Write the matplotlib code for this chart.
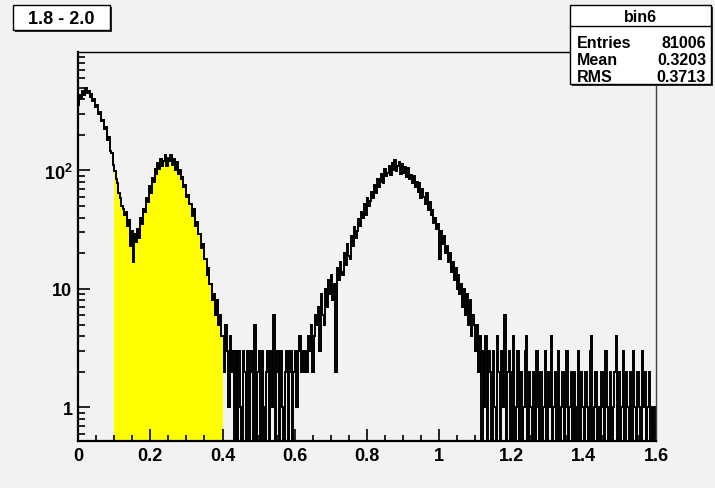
import numpy as np
import matplotlib
matplotlib.use('Agg')
import matplotlib.pyplot as plt
from matplotlib.patches import Rectangle
from matplotlib.ticker import MultipleLocator, FixedLocator, NullFormatter

plt.rcParams['font.family'] = ['Liberation Sans', 'DejaVu Sans']
plt.rcParams['font.weight'] = 'bold'
plt.rcParams['mathtext.fontset'] = 'custom'
plt.rcParams['mathtext.rm'] = 'Liberation Sans:bold'
plt.rcParams['mathtext.bf'] = 'Liberation Sans:bold'

# histogram "bin6", bins of 0.004 starting at 0, counts
BIN_W = 0.004
X_MIN = 0.0
FILL_LO, FILL_HI = 0.1, 0.4

# 0.000 - 0.100
peak_lo = [360, 430, 405, 470, 430, 495, 455, 470, 420, 445,
           385, 400, 340, 355, 300, 310, 260, 268, 225, 232,
           180, 190, 145, 140, 112]
# 0.100 - 0.400
peak_mid = [98, 84, 78, 64, 58, 50, 47, 42, 45, 34,
            38, 23, 31, 17, 29, 25, 32, 27, 40, 35,
            47, 45, 58, 54, 74, 64, 86, 80, 102, 94,
            116, 102, 126, 110, 120, 134, 108, 128, 120, 136,
            112, 126, 100, 118, 94, 100, 84, 88, 72, 76,
            60, 62, 52, 52, 41, 47, 34, 37, 29, 29,
            22, 24, 18, 18, 13, 15, 11, 11, 8, 9,
            6, 8, 5, 6, 4]
# 0.400 - 0.660
tail_mid = [4, 2, 5, 3, 1, 4, 2, 3, 0, 3,
            0, 3, 1, 0, 3, 2, 0, 3, 0, 2,
            3, 0, 5, 0, 2, 3, 0, 3, 1, 0,
            2, 3, 0, 3, 1, 6, 0, 2, 3, 0,
            3, 1, 0, 2, 3, 0, 2, 3, 0, 2,
            3, 1, 3, 4, 2, 3, 2, 3, 2, 4,
            3, 5, 2, 4, 6]
# 0.660 - 1.120
peak_hi = [5, 7, 3, 9, 6, 5, 10, 7, 12, 9,
           13, 8, 11, 2, 15, 12, 17, 14, 13, 20,
           16, 24, 19, 18, 28, 23, 33, 27, 31, 39,
           34, 45, 40, 52, 42, 58, 50, 55, 66, 58,
           76, 64, 84, 72, 80, 94, 78, 102, 90, 96,
           108, 92, 116, 100, 122, 98, 110, 118, 94, 114,
           96, 106, 88, 104, 84, 92, 78, 90, 72, 80,
           66, 78, 58, 70, 60, 52, 64, 46, 54, 42,
           46, 36, 40, 32, 35, 18, 31, 24, 28, 20,
           23, 17, 20, 14, 17, 12, 15, 10, 13, 9,
           11, 7, 10, 6, 9, 5, 8, 4, 6, 5,
           3, 5, 2, 4, 0]
# 1.120 - 1.600
tail_hi = [3, 1, 4, 0, 3, 2, 0, 3, 1, 0, 4, 2, 0, 3, 1, 6, 0, 2, 3, 0,
           2, 4, 0, 1, 3, 0, 2, 0, 1, 3, 4, 0, 2, 1, 0, 2, 0, 3, 1, 0,
           2, 0, 1, 3, 0, 2, 1, 4, 0, 1, 2, 0, 3, 0, 1, 2, 0, 1, 3, 0,
           1, 2, 0, 2, 0, 1, 3, 0, 2, 1, 0, 2, 1, 0, 3, 4, 0, 1, 2, 0,
           1, 0, 2, 1, 0, 3, 1, 0, 2, 0, 1, 2, 4, 0, 2, 0, 1, 3, 0, 2,
           1, 0, 2, 0, 3, 1, 0, 2, 1, 0, 3, 1, 2, 0, 1, 2, 0, 1, 0, 1]

title = '1.8 - 2.0'
stats_name = 'bin6'
stats_rows = [('Entries', '81006'), ('Mean', '0.3203'), ('RMS', '0.3713')]

counts = np.array(peak_lo + peak_mid + tail_mid + peak_hi + tail_hi, dtype=float)
edges = X_MIN + BIN_W * np.arange(len(counts) + 1)
# empty bins fall below the log axis, like ROOT draws them
shown = np.where(counts > 0, counts, 0.1)

W, H = 715, 489
BG = '#f2f2f2'


def fx(px):
    return px / W


def fy(py):
    return 1 - py / H


fig = plt.figure(figsize=(W / 100, H / 100), dpi=100, facecolor=BG)
ax = fig.add_axes([fx(78), fy(442), fx(656) - fx(78), fy(53) - fy(442)])
ax.set_facecolor(BG)

# yellow filled part between 0.1 and 0.4
sel = np.where((edges[:-1] >= FILL_LO - 1e-9) & (edges[1:] <= FILL_HI + 1e-9))[0]
ax.stairs(shown[sel], edges[sel[0]:sel[-1] + 2], fill=True, baseline=0.1,
          color='#ffff00', lw=0, zorder=1)
ax.stairs(shown, edges, baseline=None, color='black', lw=1.4, zorder=2)

ax.set_yscale('log')
ax.set_xlim(0, 1.6)
ax.set_ylim(0.52, 1000)

ax.xaxis.set_minor_locator(MultipleLocator(0.05))
ax.set_xticks(np.arange(0, 1.61, 0.2))
ax.set_xticklabels(['0', '0.2', '0.4', '0.6', '0.8', '1', '1.2', '1.4', '1.6'])

ax.yaxis.set_major_locator(FixedLocator([1, 10, 100]))
ax.set_yticklabels(['1', '10', r'$\mathbf{10^{2}}$'])
minor_y = [v * d for d in (0.1, 1, 10, 100) for v in range(2, 10)]
ax.yaxis.set_minor_locator(FixedLocator(minor_y))
ax.yaxis.set_minor_formatter(NullFormatter())

ax.tick_params(axis='both', which='both', direction='in', top=False, right=False,
               labelsize=13, colors='black', width=1.2)
ax.tick_params(axis='x', which='major', length=8.5, pad=4)
ax.tick_params(axis='x', which='minor', length=4)
ax.tick_params(axis='y', which='major', length=8.5, pad=4)
ax.tick_params(axis='y', which='minor', length=5)
for lab in ax.get_xticklabels() + ax.get_yticklabels():
    lab.set_fontweight('bold')

ax.spines['left'].set_linewidth(1.6)
ax.spines['bottom'].set_linewidth(1.6)
ax.spines['top'].set_linewidth(1.0)
ax.spines['right'].set_linewidth(1.0)
ax.spines['right'].set_color('#444444')

# title box with shadow
tx0, ty0, tx1, ty1 = 13, 6, 110, 31
fig.patches.append(Rectangle((fx(tx0 + 2), fy(ty1 + 2)), fx(tx1 - tx0), fy(ty0) - fy(ty1),
                             transform=fig.transFigure, facecolor='#333333',
                             edgecolor='none', zorder=5))
fig.patches.append(Rectangle((fx(tx0), fy(ty1)), fx(tx1 - tx0), fy(ty0) - fy(ty1),
                             transform=fig.transFigure, facecolor='white',
                             edgecolor='black', lw=1.0, zorder=6))
fig.text(fx((tx0 + tx1) / 2), fy((ty0 + ty1) / 2 + 0.5), title, ha='center', va='center',
         fontsize=13, fontweight='bold', zorder=7)

# stats box with shadow
sx0, sy0, sx1, sy1 = 570, 6, 711, 85
fig.patches.append(Rectangle((fx(sx0 + 2), fy(sy1 + 2)), fx(sx1 - sx0), fy(sy0) - fy(sy1),
                             transform=fig.transFigure, facecolor='#333333',
                             edgecolor='none', zorder=5))
fig.patches.append(Rectangle((fx(sx0), fy(sy1)), fx(sx1 - sx0), fy(sy0) - fy(sy1),
                             transform=fig.transFigure, facecolor='white',
                             edgecolor='black', lw=1.0, zorder=6))
fig.lines.append(plt.Line2D([fx(sx0), fx(sx1)], [fy(27), fy(27)], transform=fig.transFigure,
                            color='black', lw=1.0, zorder=7))
fig.text(fx((sx0 + sx1) / 2), fy(17), stats_name, ha='center', va='center',
         fontsize=11.5, fontweight='bold', zorder=7)
for i, (name, val) in enumerate(stats_rows):
    yy = fy(43 + 17.5 * i)
    fig.text(fx(577), yy, name, ha='left', va='center', fontsize=11.5,
             fontweight='bold', zorder=7)
    fig.text(fx(706), yy, val, ha='right', va='center', fontsize=11.5,
             fontweight='bold', zorder=7)

fig.savefig('out.png', dpi=100, facecolor=BG)
